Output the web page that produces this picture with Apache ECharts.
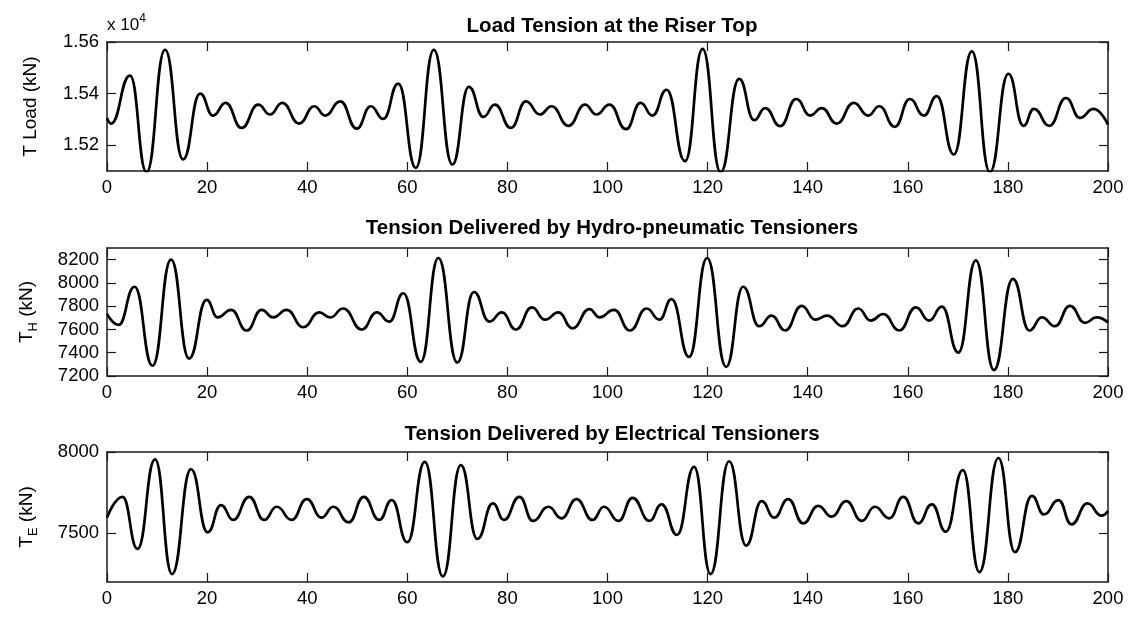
<!DOCTYPE html>
<html>
<head>
<meta charset="utf-8">
<script src="https://cdn.jsdelivr.net/npm/echarts@6/dist/echarts.min.js"></script>
<style>html,body{margin:0;padding:0;background:#fff}#c{width:1131px;height:617px}</style>
</head>
<body>
<div id="c"></div>
<script>
// ---- data (time s, tension kN) ----
const tLoad = [0,0.8,4.6,7.9,11.6,15.2,18.6,21.2,23.7,26.9,30.2,32.6,35.0,38.4,41.4,43.6,46.6,49.9,52.7,55.2,58.2,61.7,65.3,69.0,72.3,75.2,77.5,80.7,83.7,86.5,88.8,92.2,95.5,97.8,100.4,103.7,106.6,109.0,111.8,115.5,119.0,122.6,126.3,129.3,131.5,134.5,137.7,140.5,142.8,145.8,149.2,152.1,154.3,157.4,160.4,163.2,165.8,169.2,172.8,176.4,180.1,183.1,185.2,188.3,191.6,194.4,197.1,200];
const vLoad = [15306,15284,15470,15095,15570,15145,15400,15315,15364,15267,15357,15319,15364,15284,15351,15315,15370,15264,15351,15302,15439,15112,15570,15125,15426,15310,15357,15267,15370,15319,15351,15275,15357,15319,15357,15262,15364,15315,15415,15138,15573,15095,15457,15297,15344,15274,15379,15315,15344,15284,15364,15315,15351,15271,15379,15315,15390,15164,15564,15095,15477,15275,15341,15275,15383,15306,15341,15280];

const tHydro = [0,2.3,5.5,9.1,12.8,16.4,19.9,22.1,24.8,27.9,30.9,33.2,35.9,39.2,42.4,44.6,47.2,50.9,53.9,56.4,59.2,62.7,66.2,70.0,73.3,76.4,78.9,81.7,84.9,87.5,90.2,93.0,96.4,98.4,101.3,104.5,107.8,110.4,112.8,116.3,119.9,123.7,127.1,130.3,132.8,135.5,138.8,141.5,143.9,147.0,150.1,152.6,155.1,158.3,161.6,164.3,166.8,170.1,173.6,177.2,181.0,184.3,186.8,189.4,192.4,195.4,197.7,200];
const vHydro = [7733,7639,7967,7288,8200,7350,7854,7704,7769,7591,7769,7704,7769,7619,7746,7704,7780,7599,7746,7667,7911,7322,8214,7316,7922,7667,7746,7599,7789,7684,7746,7610,7775,7704,7769,7591,7780,7684,7860,7364,8214,7279,7967,7628,7718,7591,7803,7684,7718,7628,7780,7676,7733,7591,7789,7676,7797,7401,8194,7251,8035,7591,7704,7628,7803,7656,7704,7661];

const tElec = [0,3.1,6.1,9.6,13.0,16.8,20.1,22.8,25.2,28.4,31.4,33.9,36.9,39.9,42.9,45.2,48.3,51.3,54.4,56.9,60.0,63.5,67.1,70.7,74.0,77.1,79.3,82.4,85.1,88.2,90.8,93.8,97.0,99.3,102.2,105.0,108.4,110.8,113.9,117.3,120.6,124.3,127.7,130.8,133.3,136.1,139.1,142.1,144.8,147.7,150.8,153.4,156.3,159.1,162.1,164.8,167.6,171.0,174.3,178.1,181.4,184.8,187.2,190.1,192.7,195.9,198.7,200];
const vElec = [7596,7724,7404,7955,7249,7894,7506,7673,7582,7724,7582,7663,7582,7710,7596,7663,7567,7724,7582,7704,7445,7939,7234,7919,7465,7684,7582,7724,7576,7663,7592,7710,7582,7663,7576,7718,7576,7678,7490,7908,7249,7943,7424,7698,7596,7710,7561,7669,7602,7698,7576,7663,7592,7724,7561,7678,7510,7888,7261,7963,7384,7730,7616,7704,7555,7684,7608,7637];

const titles = ['Load Tension at the Riser Top','Tension Delivered by Hydro-pneumatic Tensioners','Tension Delivered by Electrical Tensioners'];
const xTicks = [0,20,40,60,80,100,120,140,160,180,200];
const yTicksLoad = [15200,15400,15600];
const yTicksHydro = [7200,7400,7600,7800,8000,8200];
const yTicksElec = [7500,8000];
const yRanges = [[15100,15600],[7200,8300],[7200,8000]];

// ---- layout ----
const FONT = '"Liberation Sans", Arial, Helvetica, sans-serif';
const grids = [
  {left:107, right:23, top:42, height:129},
  {left:107, right:23, top:248, height:128},
  {left:107, right:23, top:452, height:130}
];
const titleTops = [11, 213, 419];
const AX = '#1a1a1a';

function pairs(t, v){ return t.map((x,i)=>[x, v[i]]); }
const seriesData = [pairs(tLoad,vLoad), pairs(tHydro,vHydro), pairs(tElec,vElec)];
const yTicks = [yTicksLoad, yTicksHydro, yTicksElec];
const yFmt = [v => (v/1e4).toFixed(2), v => String(v), v => String(v)];
const yNames = ['T Load (kN)', '{a|T}{s|H}{a| (kN)}', '{a|T}{s|E}{a| (kN)}'];

const xAxis = [], yAxis = [], series = [], title = [];
for (let i=0;i<3;i++){
  const base = {
    type:'value', gridIndex:i, min:0, max:200, interval:20,
    axisLine:{show:true, onZero:false, lineStyle:{color:AX, width:1.5}},
    axisTick:{show:true, inside:true, length:9, lineStyle:{color:AX, width:1.2}},
    splitLine:{show:false}
  };
  xAxis.push(Object.assign({}, base, {position:'bottom',
    axisLabel:{show:true, color:'#000', fontSize:18.5, fontFamily:FONT, margin:7, customValues:xTicks}}));
  xAxis.push(Object.assign({}, base, {position:'top', axisLabel:{show:false}}));
  const ybase = {
    type:'value', gridIndex:i, min:yRanges[i][0], max:yRanges[i][1],
    axisLine:{show:true, onZero:false, lineStyle:{color:AX, width:1.5}},
    axisTick:{show:true, inside:true, length:9, lineStyle:{color:AX, width:1.2}, customValues:yTicks[i]},
    splitLine:{show:false}
  };
  yAxis.push(Object.assign({}, ybase, {position:'left',
    axisLabel:{show:true, color:'#000', fontSize:18.5, fontFamily:FONT, margin:8, customValues:yTicks[i], formatter:yFmt[i]},
    name:yNames[i], nameLocation:'middle', nameGap:67, nameRotate:90,
    nameTextStyle:{color:'#000', fontSize:19, fontFamily:FONT,
      rich:{a:{fontSize:19, fontFamily:FONT, color:'#000', lineHeight:26},
            s:{fontSize:13, fontFamily:FONT, color:'#000', lineHeight:13, verticalAlign:'bottom'}}}
  }));
  yAxis.push(Object.assign({}, ybase, {position:'right', axisLabel:{show:false}}));
  series.push({
    type:'line', xAxisIndex:2*i, yAxisIndex:2*i, data:seriesData[i],
    showSymbol:false, symbol:'none', smooth:0.5, smoothMonotone:'x', clip:true,
    lineStyle:{color:'#000', width:2.7}, animation:false
  });
  title.push({text:titles[i], left:607, top:titleTops[i], textAlign:'center',
    textStyle:{fontSize:20.5, fontWeight:'bold', color:'#000', fontFamily:FONT}});
}

const chart = echarts.init(document.getElementById('c'), null, {renderer:'canvas'});
chart.setOption({
  backgroundColor:'#fff',
  animation:false,
  title, grid:grids, xAxis, yAxis, series,
  graphic:[{type:'text', left:107, top:13,
    style:{text:'{a|x 10}{b|4}', rich:{a:{fontSize:17, fontFamily:FONT, fill:'#000', lineHeight:24},
      b:{fontSize:12, fontFamily:FONT, fill:'#000', lineHeight:12, verticalAlign:'top'}}}}]
});
</script>
</body>
</html>
